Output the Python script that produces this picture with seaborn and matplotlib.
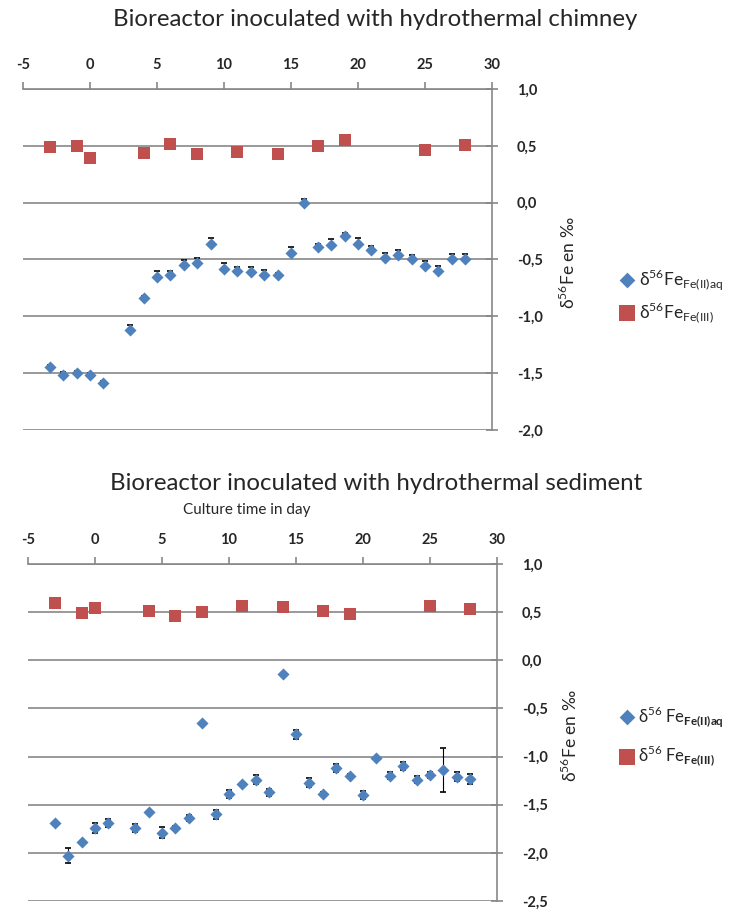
import matplotlib
matplotlib.use("Agg")
import matplotlib.pyplot as plt
import seaborn as sns

# culture days and d56Fe values
days_fe2 = [-3, -2, -1, 0, 1, 3, 4, 5, 6, 7, 8, 9, 10, 11, 12, 13, 14, 15, 16,
            17, 18, 19, 20, 21, 22, 23, 24, 25, 26, 27, 28]
days_fe3 = [-3, -1, 0, 4, 6, 8, 11, 14, 17, 19, 25, 28]

chimney_fe2 = [-1.45, -1.52, -1.50, -1.52, -1.59, -1.12, -0.84, -0.65, -0.64,
               -0.55, -0.53, -0.36, -0.58, -0.60, -0.61, -0.64, -0.64, -0.44,
               0.00, -0.39, -0.37, -0.29, -0.36, -0.42, -0.49, -0.46, -0.50,
               -0.56, -0.60, -0.50, -0.50]
chimney_fe2_err = [0.02, 0.03, 0.02, 0.02, 0.02, 0.045, 0.02, 0.045, 0.035,
                   0.045, 0.04, 0.045, 0.045, 0.035, 0.045, 0.045, 0.02, 0.05,
                   0.03, 0.03, 0.05, 0.02, 0.05, 0.04, 0.045, 0.045, 0.04,
                   0.045, 0.04, 0.045, 0.045]
chimney_fe3 = [0.49, 0.50, 0.39, 0.44, 0.52, 0.43, 0.45, 0.43, 0.50, 0.55, 0.46, 0.51]

sediment_fe2 = [-1.69, -2.03, -1.89, -1.745, -1.69, -1.745, -1.58, -1.79, -1.74,
                -1.64, -0.65, -1.60, -1.39, -1.29, -1.24, -1.37, -0.14, -0.77,
                -1.27, -1.39, -1.12, -1.20, -1.40, -1.02, -1.20, -1.10, -1.24,
                -1.19, -1.14, -1.21, -1.23]
sediment_fe2_err = [0.01, 0.08, 0.01, 0.05, 0.045, 0.04, 0.01, 0.055, 0.02,
                    0.03, 0.01, 0.045, 0.04, 0.02, 0.045, 0.035, 0.01, 0.045,
                    0.045, 0.02, 0.045, 0.02, 0.04, 0.02, 0.035, 0.04, 0.035,
                    0.03, 0.23, 0.045, 0.05]
sediment_fe3 = [0.59, 0.49, 0.54, 0.51, 0.46, 0.50, 0.56, 0.55, 0.51, 0.48, 0.56, 0.53]

x_ticks = [-5, 0, 5, 10, 15, 20, 25, 30]
y_ticks_top = [-2.0, -1.5, -1.0, -0.5, 0.0, 0.5, 1.0]
y_ticks_bottom = [-2.5, -2.0, -1.5, -1.0, -0.5, 0.0, 0.5, 1.0]

BLUE = "#4F81BD"
RED = "#C0504D"
GRID = "#878787"

sns.set_style("white")
plt.rcParams["font.family"] = ["Lato", "DejaVu Sans"]
plt.rcParams["mathtext.fontset"] = "custom"
plt.rcParams["mathtext.rm"] = "Lato"
plt.rcParams["mathtext.bf"] = "Lato:bold"

fig = plt.figure(figsize=(7.29, 9.11), dpi=100)
ax_top = fig.add_axes([23 / 729, 1 - 430 / 911, 469 / 729, 341 / 911])
ax_bot = fig.add_axes([28 / 729, 1 - 901 / 911, 469 / 729, 337 / 911])


def style_axis(ax, yticks):
    ax.set_xlim(-5, 30)
    ax.set_ylim(yticks[0], yticks[-1])
    ax.xaxis.tick_top()
    ax.yaxis.tick_right()
    ax.set_xticks(x_ticks)
    ax.set_xticklabels([str(t) for t in x_ticks], fontweight="bold", fontsize=10.5)
    ax.set_yticks(yticks)
    ax.set_yticklabels([f"{t:.1f}".replace(".", ",") for t in yticks],
                       fontweight="bold", fontsize=10.5)
    for side in ["left", "bottom"]:
        ax.spines[side].set_visible(False)
    for side in ["top", "right"]:
        ax.spines[side].set_color(GRID)
        ax.spines[side].set_linewidth(1.2)
    ax.tick_params(axis="x", direction="out", length=5, width=1.2, color=GRID, pad=7)
    ax.tick_params(axis="y", direction="inout", length=8, width=1.2, color=GRID, pad=14)
    ax.grid(axis="y", color=GRID, linewidth=1.2)
    ax.grid(axis="x", visible=False)
    ax.set_xlabel("")
    ax.set_ylabel("")


legend_kw = dict(loc="center left", frameon=False, handlelength=0.8,
                 handletextpad=0.3, borderpad=0, borderaxespad=0,
                 markerscale=1.3)

# top panel: chimney
ax_top.errorbar(days_fe2, chimney_fe2,
                yerr=[[0] * len(chimney_fe2_err), chimney_fe2_err],
                fmt="none", ecolor="black", elinewidth=0.8, capsize=2, capthick=1.2,
                zorder=2)
sns.scatterplot(x=days_fe2, y=chimney_fe2, ax=ax_top, marker="D", s=38,
                color=BLUE, linewidth=0, zorder=3,
                label=r"δ$^{56}$Fe$_{\mathrm{Fe(II)aq}}$")
sns.scatterplot(x=days_fe3, y=chimney_fe3, ax=ax_top, marker="s", s=76,
                color=RED, linewidth=0, zorder=3,
                label=r"δ$^{56}$Fe$_{\mathrm{Fe(III)}}$")
style_axis(ax_top, y_ticks_top)
ax_top.legend(bbox_to_anchor=(1.273, 0.394), labelspacing=0.5, fontsize=12.5,
              **legend_kw)
ax_top.text(1.162, 0.49, "δ$^{56}$Fe en ‰", rotation=90, ha="center",
            va="center", fontsize=12.5, transform=ax_top.transAxes)

# bottom panel: sediment
ax_bot.errorbar(days_fe2, sediment_fe2, yerr=sediment_fe2_err,
                fmt="none", ecolor="black", elinewidth=0.8, capsize=2, capthick=1.2,
                zorder=2)
sns.scatterplot(x=days_fe2, y=sediment_fe2, ax=ax_bot, marker="D", s=38,
                color=BLUE, linewidth=0, zorder=3,
                label=r"δ$^{56}$ Fe$_{\mathbf{Fe(II)aq}}$")
sns.scatterplot(x=days_fe3, y=sediment_fe3, ax=ax_bot, marker="s", s=76,
                color=RED, linewidth=0, zorder=3,
                label=r"δ$^{56}$ Fe$_{\mathbf{Fe(III)}}$")
style_axis(ax_bot, y_ticks_bottom)
ax_bot.legend(bbox_to_anchor=(1.262, 0.49), labelspacing=0.9, fontsize=12,
              **legend_kw)
ax_bot.text(1.156, 0.49, "δ$^{56}$Fe en ‰", rotation=90, ha="center",
            va="center", fontsize=12.5, transform=ax_bot.transAxes)

fig.text(375 / 729, 1 - 20 / 911, "Bioreactor inoculated with hydrothermal chimney",
         ha="center", va="center", fontsize=17.3)
fig.text(376 / 729, 1 - 483 / 911, "Bioreactor inoculated with hydrothermal sediment",
         ha="center", va="center", fontsize=17.3)
fig.text(247 / 729, 1 - 510 / 911, "Culture time in day",
         ha="center", va="center", fontsize=11)

fig.savefig("out.png", dpi=100)
